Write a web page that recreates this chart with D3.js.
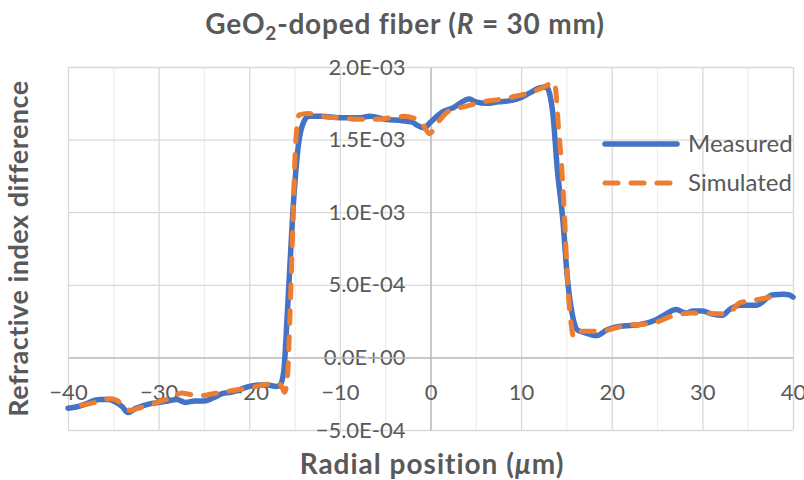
<!DOCTYPE html>
<html>
<head>
<meta charset="utf-8">
<script src="https://cdnjs.cloudflare.com/ajax/libs/d3/7.8.5/d3.min.js"></script>
<style>
body { margin: 0; background: #fff; }
svg text { font-family: Lato, "Open Sans", sans-serif; fill: #595959; }
</style>
</head>
<body>
<div class="chart"></div>
<script>
// values, refractive index difference (absolute)
var measuredX = [-40, -39, -38, -37, -36.5, -35.5, -34.7, -34, -33.4, -32.5, -31, -30, -29, -28, -27, -26, -25, -24, -23, -22, -21, -20, -19, -18, -17, -16.6, -16.2, -15.8, -15.2, -14.6, -14.0, -13.4, -12, -10, -8, -6.7, -5, -3.1, -2, -1.5, -0.7, 0, 1.3, 2.5, 4.3, 5, 6.2, 7.5, 9, 10, 10.9, 12.4, 12.8, 13.5, 14.0, 14.6, 15.1, 15.7, 16.2, 17, 18.3, 19.5, 20.5, 22, 23, 24.9, 26, 27.1, 28.2, 29, 30, 31, 32.2, 33, 34.1, 36, 37.7, 39, 39.6, 40];
var measuredY = [-3.5e-4, -3.4e-4, -3.2e-4, -2.95e-4, -2.9e-4, -2.9e-4, -3.1e-4, -3.4e-4, -3.8e-4, -3.5e-4, -3.2e-4, -3.1e-4, -3.0e-4, -2.9e-4, -3.1e-4, -3.0e-4, -3.0e-4, -2.8e-4, -2.5e-4, -2.4e-4, -2.2e-4, -2.0e-4, -1.9e-4, -1.9e-4, -2.0e-4, -1.9e-4, -1.0e-4, 3.0e-4, 9.9e-4, 14.5e-4, 16.2e-4, 16.6e-4, 16.6e-4, 16.5e-4, 16.5e-4, 16.6e-4, 16.4e-4, 16.3e-4, 16.2e-4, 16.0e-4, 15.8e-4, 16.2e-4, 16.9e-4, 17.2e-4, 17.8e-4, 17.6e-4, 17.5e-4, 17.6e-4, 17.7e-4, 17.9e-4, 18.2e-4, 18.6e-4, 18.6e-4, 16.8e-4, 12.9e-4, 9.5e-4, 5.5e-4, 2.8e-4, 1.9e-4, 1.7e-4, 1.5e-4, 1.9e-4, 2.1e-4, 2.2e-4, 2.25e-4, 2.6e-4, 3.0e-4, 3.3e-4, 3.05e-4, 3.2e-4, 3.2e-4, 3.0e-4, 2.9e-4, 3.3e-4, 3.6e-4, 3.6e-4, 4.3e-4, 4.35e-4, 4.3e-4, 4.15e-4];
var simulatedX = [-38.5, -37, -36, -35.2, -34.5, -33.8, -33.1, -32, -31, -29.5, -28.5, -27.5, -26.5, -25.5, -24, -22, -20, -18, -17, -16.5, -16.1, -15.8, -15.5, -15.2, -14.9, -14.5, -13.5, -12, -10, -8, -6, -3, -1.5, -0.8, -0.1, 0.6, 2.1, 4, 5.7, 8, 9.5, 11.7, 13, 13.5, 13.8, 14.1, 14.5, 14.8, 15.1, 15.5, 15.8, 16.4, 18.6, 21.6, 24.5, 26.7, 28.9, 31.9, 33, 34.1, 36.3, 38.5];
var simulatedY = [-3.3e-4, -3.1e-4, -2.9e-4, -2.85e-4, -3.0e-4, -3.4e-4, -3.65e-4, -3.45e-4, -3.3e-4, -2.95e-4, -2.8e-4, -2.45e-4, -2.55e-4, -2.65e-4, -2.5e-4, -2.3e-4, -2.1e-4, -1.85e-4, -1.8e-4, -1.9e-4, -2.4e-4, -1.5e-4, 3.0e-4, 9.0e-4, 14.5e-4, 16.7e-4, 16.8e-4, 16.6e-4, 16.5e-4, 16.4e-4, 16.4e-4, 16.6e-4, 16.4e-4, 16.0e-4, 15.4e-4, 16.0e-4, 17.0e-4, 17.3e-4, 17.6e-4, 17.8e-4, 18.0e-4, 18.4e-4, 18.8e-4, 19.0e-4, 18.5e-4, 16.0e-4, 12.9e-4, 9.5e-4, 5.5e-4, 2.4e-4, 1.4e-4, 1.8e-4, 1.8e-4, 2.2e-4, 2.35e-4, 2.85e-4, 3.05e-4, 3.0e-4, 3.1e-4, 3.75e-4, 4.0e-4, 4.3e-4];
var xTicks = [-40, -30, -20, -10, 0, 10, 20, 30, 40];
var xMinor = [-35, -25, -15, -5, 5, 15, 25, 35];
var yTicks = [-5e-4, 0, 5e-4, 1e-3, 1.5e-3, 2e-3];
var seriesNames = ["Measured", "Simulated"];
var seriesColors = ["#4472C4", "#ED7D31"];

var W = 804, H = 480;
var margin = {top: 67, right: 11, bottom: 50, left: 68},
    width = W - margin.left - margin.right,
    height = H - margin.top - margin.bottom;

var x = d3.scaleLinear().domain([-40, 40]).range([0, width]),
    y = d3.scaleLinear().domain([-5e-4, 2e-3]).range([height, 0]);

var svg = d3.select(".chart").append("svg")
    .attr("width", W)
    .attr("height", H);
var g = svg.append("g")
    .attr("transform", "translate(" + margin.left + "," + margin.top + ")");

// minor vertical grid
g.append("g")
    .attr("transform", "translate(0," + height + ")")
    .call(d3.axisBottom(x).tickValues(xMinor).tickSize(-height).tickFormat(""))
    .call(function(s){ s.select(".domain").remove(); s.selectAll("line").attr("stroke", "#efefef").attr("stroke-width", 1.3); });
// major grid
g.append("g")
    .attr("transform", "translate(0," + height + ")")
    .call(d3.axisBottom(x).tickValues(xTicks).tickSize(-height).tickFormat(""))
    .call(function(s){ s.select(".domain").remove(); s.selectAll("line").attr("stroke", "#d9d9d9").attr("stroke-width", 1.3); });
g.append("g")
    .call(d3.axisLeft(y).tickValues(yTicks).tickSize(-width).tickFormat(""))
    .call(function(s){ s.select(".domain").remove(); s.selectAll("line").attr("stroke", "#d9d9d9").attr("stroke-width", 1.3); });

// axes crossing at zero
function yFmt(d){
  if (d === 0) return "0.0E+00";
  var s = d.toExponential(1).toUpperCase().replace(/E([+-])(\d)$/, "E$10$2");
  return s.replace(/^-/, "\u2212");
}
g.append("g")
    .attr("class", "yaxis")
    .attr("transform", "translate(" + x(0) + ",0)")
    .call(d3.axisLeft(y).tickValues(yTicks).tickSize(0).tickPadding(25).tickFormat(yFmt))
    .call(function(s){
      s.select(".domain").attr("stroke", "#bfbfbf").attr("stroke-width", 1.5);
      s.selectAll("text").style("font-size", "22px").attr("fill", "#595959");
    });
g.append("g")
    .attr("class", "xaxis")
    .attr("transform", "translate(0," + y(0) + ")")
    .call(d3.axisBottom(x).tickValues(xTicks).tickSize(0).tickPadding(43).tickFormat(function(d){ return d < 0 ? "\u2212" + (-d) : d; }))
    .call(function(s){
      s.select(".domain").attr("stroke", "#bfbfbf").attr("stroke-width", 1.5);
      s.selectAll("text").style("font-size", "22px").attr("fill", "#595959").attr("dy", "0");
    });

// series
var line = d3.line()
    .x(function(d){ return x(d[0]); })
    .y(function(d){ return y(d[1]); })
    .curve(d3.curveMonotoneX);

var measured = d3.zip(measuredX, measuredY);
var simulated = d3.zip(simulatedX, simulatedY);

g.append("path")
    .datum(measured)
    .attr("d", line)
    .attr("fill", "none")
    .attr("stroke", seriesColors[0])
    .attr("stroke-width", 5.5)
    .attr("stroke-linejoin", "round")
    .attr("stroke-linecap", "round");
g.append("path")
    .datum(simulated)
    .attr("d", line)
    .attr("fill", "none")
    .attr("stroke", seriesColors[1])
    .attr("stroke-width", 5)
    .attr("stroke-dasharray", "13,13")
    .attr("stroke-linejoin", "round")
    .attr("stroke-linecap", "round");

// legend
var legend = svg.append("g").attr("transform", "translate(603,144)");
seriesNames.forEach(function(name, i){
  var row = legend.append("g").attr("transform", "translate(0," + (i * 39) + ")");
  row.append("line")
    .attr("x1", 2).attr("x2", 74).attr("y1", 0).attr("y2", 0)
    .attr("stroke", seriesColors[i])
    .attr("stroke-width", i === 0 ? 5.5 : 5)
    .attr("stroke-linecap", "round")
    .attr("stroke-dasharray", i === 1 ? "13,13" : null);
  row.append("text")
    .attr("x", 85).attr("y", 0).attr("dy", "0.35em")
    .style("font-size", "24px")
    .text(name);
});

// title
var title = svg.append("text")
    .attr("x", 405).attr("y", 34)
    .attr("text-anchor", "middle")
    .style("font-size", "28px")
    .style("letter-spacing", "0.8px")
    .style("font-weight", "bold");
title.append("tspan").text("GeO");
title.append("tspan").attr("dy", 6).style("font-size", "19px").text("2");
title.append("tspan").attr("dy", -6).text("-doped fiber (");
title.append("tspan").style("font-style", "italic").text("R");
title.append("tspan").text(" = 30 mm)");

// x axis title
var xt = svg.append("text")
    .attr("x", 432).attr("y", 474)
    .attr("text-anchor", "middle")
    .style("font-size", "28px")
    .style("letter-spacing", "1px")
    .style("font-weight", "bold");
xt.append("tspan").text("Radial position (");
xt.append("tspan").style("font-style", "italic").text("\u03bc");
xt.append("tspan").text("m)");

// y axis title
svg.append("text")
    .attr("transform", "translate(28," + (margin.top + height / 2) + ") rotate(-90)")
    .attr("text-anchor", "middle")
    .style("font-size", "27px")
    .style("letter-spacing", "0.5px")
    .style("font-weight", "bold")
    .text("Refractive index difference");
</script>
</body>
</html>
